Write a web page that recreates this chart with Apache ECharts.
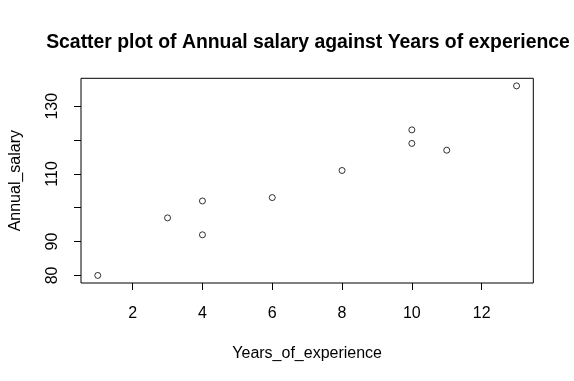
<!DOCTYPE html>
<html><head><meta charset="utf-8">
<script src="https://cdn.jsdelivr.net/npm/echarts@6/dist/echarts.min.js"></script>
<style>html,body{margin:0;padding:0;background:#fff}#c{width:574px;height:381px}</style>
</head><body><div id="c"></div>
<script>
const years = [1, 3, 4, 4, 6, 8, 10, 10, 11, 13];
const salary = [80, 97, 102, 92, 103, 111, 123, 119, 117, 136];
const xTicks = [2, 4, 6, 8, 10, 12];
const yTicks = [80, 90, 100, 110, 120, 130];
const yLabels = [80, 90, 110, 130];
const titleText = 'Scatter plot of Annual salary against Years of experience';
const xName = 'Years_of_experience';
const yName = 'Annual_salary';

const font = 'Liberation Sans, Arial, sans-serif';
const chart = echarts.init(document.getElementById('c'), null, {renderer: 'canvas'});
chart.setOption({
  animation: false,
  backgroundColor: '#fff',
  title: {
    text: titleText, left: 303, top: 28, textAlign: 'center',
    textStyle: {fontFamily: font, fontWeight: 'bold', fontSize: 19.4, color: '#000'}
  },
  grid: {left: 78.7, top: 78.3, right: 40.7, bottom: 98, show: true, borderColor: '#000', borderWidth: 1, backgroundColor: 'transparent'},
  xAxis: {
    type: 'value', min: 0.52, max: 13.48,
    name: xName, nameLocation: 'middle', nameGap: 63,
    nameTextStyle: {fontFamily: font, fontSize: 16, color: '#000'},
    axisLine: {show: false},
    splitLine: {show: false},
    axisTick: {show: true, inside: false, length: 7, customValues: xTicks, lineStyle: {color: '#000', width: 1}},
    axisLabel: {customValues: xTicks, margin: 23, fontFamily: font, fontSize: 16, color: '#000'}
  },
  yAxis: {
    type: 'value', min: 77.76, max: 138.24,
    name: yName, nameLocation: 'middle', nameGap: 57,
    nameTextStyle: {fontFamily: font, fontSize: 16, color: '#000'},
    axisLine: {show: false},
    splitLine: {show: false},
    axisTick: {show: true, inside: false, length: 7, customValues: yTicks, lineStyle: {color: '#000', width: 1}},
    axisLabel: {customValues: yLabels, rotate: 90, margin: 20, fontFamily: font, fontSize: 16, color: '#000'}
  },
  series: [{
    type: 'scatter',
    data: years.map((x, i) => [x, salary[i]]),
    symbol: 'circle', symbolSize: 6,
    itemStyle: {color: 'rgba(255,255,255,0)', borderColor: '#000', borderWidth: 1}
  }]
});
</script></body></html>
